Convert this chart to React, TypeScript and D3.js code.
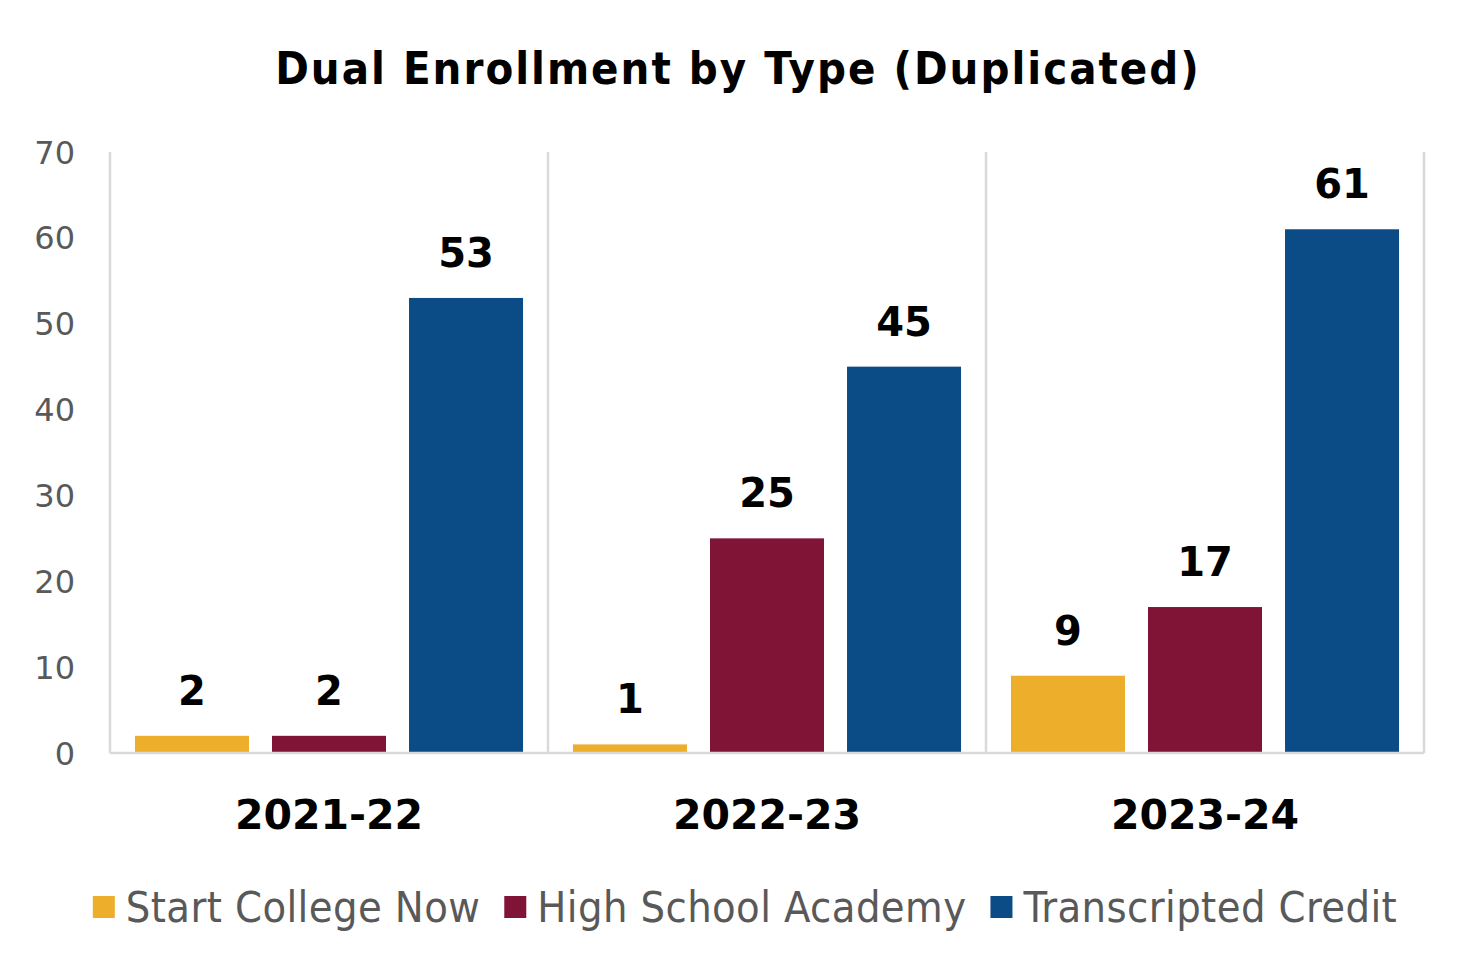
import React, { useEffect, useRef } from "react";
import * as d3 from "d3";

const categories = ["2021-22", "2022-23", "2023-24"];
const seriesNames = ["Start College Now", "High School Academy", "Transcripted Credit"];
const startCollegeNow = [2, 1, 9];
const highSchoolAcademy = [2, 25, 17];
const transcriptedCredit = [53, 45, 61];
const yTicks = [0, 10, 20, 30, 40, 50, 60, 70];
const colors = ["#EDAE2C", "#7F1436", "#0B4B86"];

const W = 1475;
const H = 973;

export default function App() {
  const ref = useRef<SVGSVGElement>(null);
  useEffect(() => {
    const svg = d3.select(ref.current);
    svg.selectAll("*").remove();
    const left = 110, right = 1424, top = 152, bottom = 753;
    const values = [startCollegeNow, highSchoolAcademy, transcriptedCredit];

    const y = d3.scaleLinear().domain([0, 70]).range([bottom, top]);
    const x0 = d3.scaleBand<string>().domain(categories).range([left, right]).padding(0);
    const gw = x0.bandwidth();
    const x1 = d3.scaleBand<string>().domain(seriesNames).range([gw * 0.057, gw * 0.943]).paddingInner(0.168).paddingOuter(0);

    svg.append("text").attr("x", 738).attr("y", 84).attr("text-anchor", "middle")
      .attr("font-family", "'DejaVu Sans Condensed', 'DejaVu Sans', sans-serif").attr("font-weight", "bold")
      .attr("font-size", 45).attr("letter-spacing", 2).attr("fill", "#000")
      .text("Dual Enrollment by Type (Duplicated)");

    // y tick labels
    svg.append("g").selectAll("text").data(yTicks).join("text")
      .attr("x", 75).attr("y", d => y(d)).attr("dy", "0.36em").attr("text-anchor", "end")
      .attr("font-family", "'DejaVu Sans', sans-serif").attr("font-size", 32)
      .attr("fill", "#595959").text(d => String(d));

    // separators
    const seps = [...categories.map(c => x0(c)!), right];
    svg.append("g").selectAll("line").data(seps).join("line")
      .attr("x1", d => d).attr("x2", d => d).attr("y1", top).attr("y2", bottom)
      .attr("stroke", "#D9D9D9").attr("stroke-width", 2.5);

    // bars
    const g = svg.append("g");
    categories.forEach((c, ci) => {
      seriesNames.forEach((s, si) => {
        const v = values[si][ci];
        const bx = x0(c)! + x1(s)!;
        g.append("rect").attr("x", bx).attr("y", y(v)).attr("width", x1.bandwidth())
          .attr("height", y(0) - y(v)).attr("fill", colors[si]);
        g.append("text").attr("x", bx + x1.bandwidth() / 2).attr("y", y(v) - 31)
          .attr("text-anchor", "middle").attr("font-family", "'DejaVu Sans', sans-serif")
          .attr("font-weight", "bold").attr("font-size", 40).attr("fill", "#000").text(String(v));
      });
      svg.append("text").attr("x", x0(c)! + gw / 2).attr("y", 829).attr("text-anchor", "middle")
        .attr("font-family", "'DejaVu Sans', sans-serif").attr("font-weight", "bold")
        .attr("font-size", 41).attr("fill", "#000").text(c);
    });

    // x axis line
    svg.append("line").attr("x1", left).attr("x2", right).attr("y1", bottom).attr("y2", bottom)
      .attr("stroke", "#D9D9D9").attr("stroke-width", 2.5);

    // legend
    const lg = svg.append("g");
    const items: { w: number; node: any }[] = [];
    seriesNames.forEach((s, i) => {
      const it = lg.append("g");
      it.append("rect").attr("x", 0).attr("y", -11).attr("width", 22).attr("height", 22).attr("fill", colors[i]);
      const t = it.append("text").attr("x", 33).attr("y", 0).attr("dy", "0.36em")
        .attr("font-family", "'DejaVu Sans Condensed', 'DejaVu Sans', sans-serif")
        .attr("font-size", 43).attr("letter-spacing", 0.4).attr("fill", "#595959").text(s);
      const tw = (t.node() as SVGTextElement).getComputedTextLength();
      items.push({ w: 33 + tw, node: it });
    });
    const gap = 24;
    const total = d3.sum(items, d => d.w) + gap * (items.length - 1);
    let cx = 745 - total / 2;
    items.forEach(d => { d.node.attr("transform", `translate(${cx},907)`); cx += d.w + gap; });
  }, []);
  return <svg ref={ref} width={W} height={H} style={{ display: "block", position: "absolute", left: 0, top: 0 }} />;
}
